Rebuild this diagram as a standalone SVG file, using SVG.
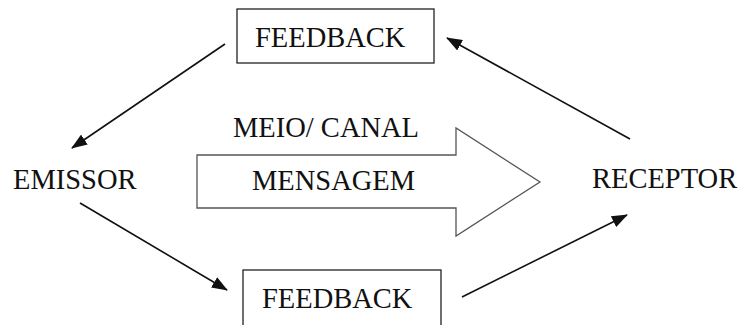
<svg xmlns="http://www.w3.org/2000/svg" width="740" height="325" viewBox="0 0 740 325">
<style>
text{font-family:"Liberation Serif","Times New Roman",serif;font-size:28.5px;fill:#111}
.box{fill:#fff;stroke:#222;stroke-width:1.3}
.conn{stroke:#111;stroke-width:1.6;fill:none;marker-end:url(#ah)}
.big{fill:#fff;stroke:#555;stroke-width:1.3}
</style>
<defs>
<marker id="ah" markerUnits="userSpaceOnUse" markerWidth="16" markerHeight="12" viewBox="0 0 16 12" refX="15" refY="6" orient="auto">
<path d="M0,0 L16,6 L0,12 Z" fill="#111"/>
</marker>
</defs>
<rect width="740" height="325" fill="#fff"/>
<g id="feedback-top"><rect class="box" x="237" y="9" width="197" height="54"/><text x="255" y="47">FEEDBACK</text></g>
<g id="feedback-bottom"><rect class="box" x="243" y="270" width="198" height="62"/><text x="262" y="308">FEEDBACK</text></g>
<g id="emissor"><text x="13" y="189">EMISSOR</text></g>
<g id="receptor"><text x="592" y="188">RECEPTOR</text></g>
<g id="mensagem">
<path class="big" d="M197,155 L456,155 L456,128 L540,182 L456,236 L456,208 L197,208 Z"/>
<text x="233" y="137">MEIO/ CANAL</text>
<text x="252" y="190">MENSAGEM</text>
</g>
<g id="connectors">
<line class="conn" x1="225" y1="44" x2="72" y2="148"/>
<line class="conn" x1="80" y1="203" x2="227" y2="290"/>
<line class="conn" x1="462" y1="297" x2="627" y2="215"/>
<line class="conn" x1="630" y1="139" x2="447" y2="38"/>
</g>
</svg>
